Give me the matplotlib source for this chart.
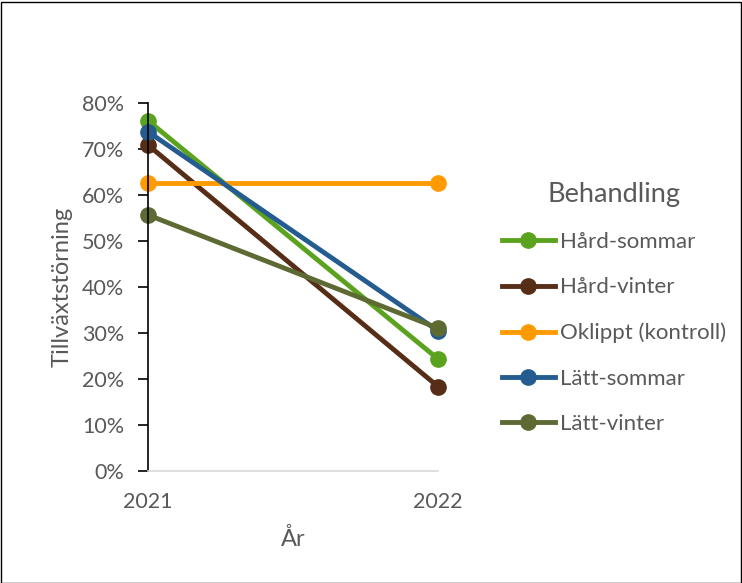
import matplotlib
matplotlib.use("Agg")
import matplotlib.pyplot as plt
from matplotlib.ticker import PercentFormatter

plt.rcParams['font.family'] = ['Lato', 'DejaVu Sans']

years = [2021, 2022]
series = ["Hård-sommar", "Hård-vinter", "Oklippt (kontroll)", "Lätt-sommar", "Lätt-vinter"]
hard_sommar = [0.761, 0.243]
hard_vinter = [0.708, 0.183]
oklippt = [0.625, 0.625]
latt_sommar = [0.737, 0.304]
latt_vinter = [0.556, 0.310]
colors = ["#5BA31E", "#562D17", "#FF9A00", "#245C8F", "#5D6A33"]

values = [hard_sommar, hard_vinter, oklippt, latt_sommar, latt_vinter]

fig = plt.figure(figsize=(7.42, 5.83), dpi=100)
ax = fig.add_axes([148/742, 1 - 470.7/583, (438-148)/742, (470.7-102.7)/583])

for name, vals, c in zip(series, values, colors):
  ax.plot(years, vals, color=c, lw=3.5, marker="o", ms=11, label=name, clip_on=False)

ax.set_xlim(2021, 2022)
ax.set_ylim(0, 0.8)
ax.set_xticks(years)
ax.set_xticklabels([str(y) for y in years])
ax.set_yticks([i/10 for i in range(9)])
ax.yaxis.set_major_formatter(PercentFormatter(1.0, decimals=0))

for s in ["top", "right"]:
  ax.spines[s].set_visible(False)
ax.spines["left"].set_color("black")
ax.spines["left"].set_linewidth(1.2)
ax.spines["bottom"].set_color("#D9D9D9")
ax.spines["bottom"].set_linewidth(1.2)
ax.tick_params(axis="y", length=7, width=1.2, color="black", labelsize=15.5, labelcolor="#595959", pad=10)
ax.tick_params(axis="x", length=0, labelsize=15.5, labelcolor="#595959", pad=15)

ax.set_ylabel("Tillväxtstörning", fontsize=17, color="#595959", labelpad=7)
ax.set_xlabel("År", fontsize=17, color="#595959", labelpad=12)

leg = ax.legend(title="Behandling", loc="upper left", bbox_to_anchor=(1.22, 0.785),
                frameon=False, fontsize=16, title_fontsize=19.5, labelspacing=1.14,
                handlelength=2.4, handletextpad=0.2, borderpad=0, borderaxespad=0)
for t in leg.get_texts():
  t.set_color("#595959")
leg.get_title().set_color("#595959")

# border round the whole chart
fig.patches.append(plt.Rectangle((0.5/742, 0.5/583), 1 - 2/742, 1 - 2/583,
                                 transform=fig.transFigure, fill=False,
                                 edgecolor="black", lw=1))

fig.savefig("out.png", dpi=100)
